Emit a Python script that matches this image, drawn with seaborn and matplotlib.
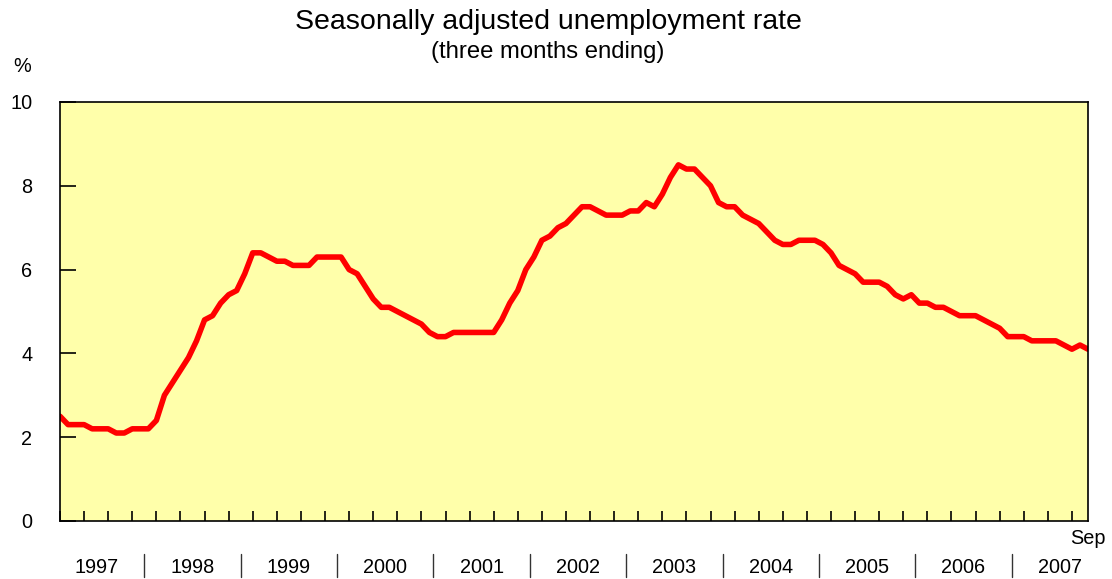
import numpy as np
import pandas as pd
from matplotlib import pyplot as plt
import seaborn as sns

# Taxa de desemprego (media movel de tres meses), mes a mes
rate = [
    2.5, 2.3, 2.3, 2.3, 2.2, 2.2, 2.2, 2.1, 2.1, 2.2, 2.2, 2.2,
    2.4, 3.0, 3.3, 3.6, 3.9, 4.3, 4.8, 4.9, 5.2, 5.4, 5.5, 5.9,
    6.4, 6.4, 6.3, 6.2, 6.2, 6.1, 6.1, 6.1, 6.3, 6.3, 6.3, 6.3,
    6.0, 5.9, 5.6, 5.3, 5.1, 5.1, 5.0, 4.9, 4.8, 4.7, 4.5, 4.4,
    4.4, 4.5, 4.5, 4.5, 4.5, 4.5, 4.5, 4.8, 5.2, 5.5, 6.0, 6.3,
    6.7, 6.8, 7.0, 7.1, 7.3, 7.5, 7.5, 7.4, 7.3, 7.3, 7.3, 7.4,
    7.4, 7.6, 7.5, 7.8, 8.2, 8.5, 8.4, 8.4, 8.2, 8.0, 7.6, 7.5,
    7.5, 7.3, 7.2, 7.1, 6.9, 6.7, 6.6, 6.6, 6.7, 6.7, 6.7, 6.6,
    6.4, 6.1, 6.0, 5.9, 5.7, 5.7, 5.7, 5.6, 5.4, 5.3, 5.4, 5.2,
    5.2, 5.1, 5.1, 5.0, 4.9, 4.9, 4.9, 4.8, 4.7, 4.6, 4.4, 4.4,
    4.4, 4.3, 4.3, 4.3, 4.3, 4.2, 4.1, 4.2, 4.1,
]
years = ["1997", "1998", "1999", "2000", "2001", "2002",
         "2003", "2004", "2005", "2006", "2007"]
end_label = "Sep"
y_ticks = [0, 2, 4, 6, 8, 10]

# primeiro ponto fica 1.5 meses depois do inicio do bloco de 1997
year_start = -1.5

df = pd.DataFrame({"month": np.arange(len(rate)), "rate": rate})

###############################################################################
# GRAFICO
###############################################################################
sns.set_style("ticks")
plt.rcParams["font.family"] = ["Liberation Sans", "DejaVu Sans"]
plt.rcParams["text.color"] = "black"

W, H = 1112, 579
fig = plt.figure(figsize=(W / 100, H / 100), dpi=100)
ax = fig.add_axes([60 / W, 1 - 521 / H, (1088 - 60) / W, (521 - 102) / H])
ax.set_facecolor("#FFFFAA")

sns.lineplot(data=df, x="month", y="rate", color="#FF0000", lw=4.0, ax=ax)
ax.lines[0].set_solid_joinstyle("round")

ax.set_xlim(0, len(rate) - 1)
ax.set_ylim(0, 10)
ax.set_yticks(y_ticks)
ax.set_xticks(np.arange(0, len(rate), 3))
ax.set_xticklabels([])
ax.set_xlabel("")
ax.set_ylabel("")
ax.tick_params(axis="y", direction="in", length=11.5, width=1.2,
               labelsize=14.3, pad=20, colors="black")
ax.tick_params(axis="x", direction="in", length=7.2, width=1.2, colors="black")
for s in ax.spines.values():
    s.set_color("black")
    s.set_linewidth(1.2)

# rotulos dos anos e separadores abaixo do eixo
trans = ax.get_xaxis_transform()
for k, yr in enumerate(years):
    ax.text(year_start + 12 * k + 6, -0.1098, yr, transform=trans,
            ha="center", va="center", fontsize=14.3, color="black")
    if k > 0:
        ax.plot([year_start + 12 * k] * 2, [-0.079, -0.134], transform=trans,
                color="#333333", lw=1, clip_on=False)
ax.text(len(rate) - 1, -0.0406, end_label, transform=trans,
        ha="center", va="center", fontsize=14.3, color="black")

fig.text(548 / W, 1 - 22 / H, "Seasonally adjusted unemployment rate",
         ha="center", va="center", fontsize=20.5, color="black")
fig.text(548 / W, 1 - 52 / H, "(three months ending)",
         ha="center", va="center", fontsize=17.2, color="black")
fig.text(22 / W, 1 - 67 / H, "%", ha="center", va="center", fontsize=14.3,
         color="black")

plt.savefig("out.png", dpi=100)
